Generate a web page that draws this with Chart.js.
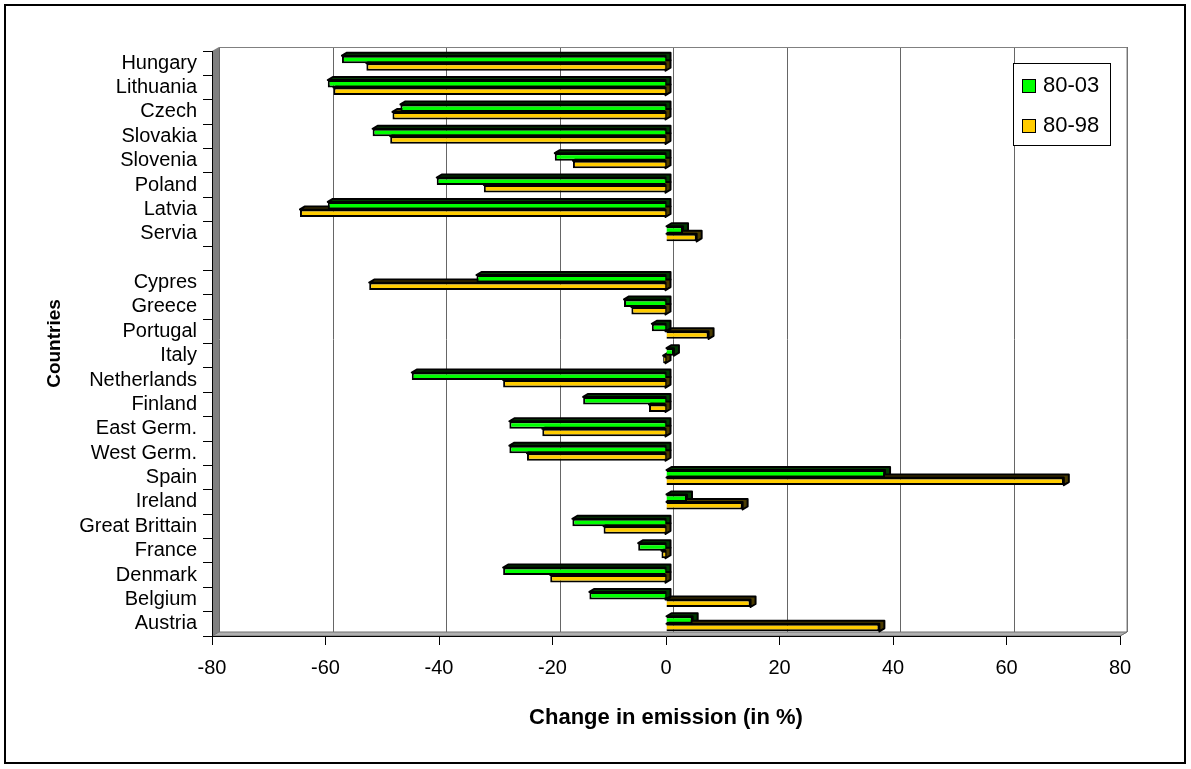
<!DOCTYPE html>
<html>
<head>
<meta charset="utf-8">
<script src="https://cdn.jsdelivr.net/npm/chart.js@4/dist/chart.umd.min.js"></script>
<style>
  body { margin: 0; background: #fff; }
  canvas { display: block; }
</style>
</head>
<body>
<canvas id="myChart" width="1191" height="769"></canvas>
<script>
const countries = [
  "Hungary", "Lithuania", "Czech", "Slovakia", "Slovenia", "Poland", "Latvia", "Servia",
  "",
  "Cypres", "Greece", "Portugal", "Italy", "Netherlands", "Finland", "East Germ.", "West Germ.",
  "Spain", "Ireland", "Great Brittain", "France", "Denmark", "Belgium", "Austria",
];
const change8003 = [
  -57.1, -59.6, -46.8, -51.7, -19.6, -40.4, -59.6, 3.0,
  null,
  -33.4, -7.4, -2.5, 1.4, -44.8, -14.6, -27.6, -27.6,
  38.6, 3.7, -16.5, -4.9, -28.7, -13.5, 4.7,
];
const change8098 = [
  -52.8, -58.6, -48.2, -48.6, -16.4, -32.1, -64.5, 5.4,
  null,
  -52.3, -6.1, 7.5, -0.5, -28.7, -3.0, -21.8, -24.5,
  70.1, 13.5, -11.0, -0.8, -20.4, 14.9, 37.6,
];
const xTicks = [-80, -60, -40, -20, 0, 20, 40, 60, 80];

const FONT = "'Liberation Sans', Arial, sans-serif";
const WALL_DX = 7;
const WALL_DY = 4;
const BAR_DX = 5;
const BAR_DY = 3;

// walls, floor and back gridlines of the fake 3d plot
const frame3d = {
  id: "frame3d",
  beforeDraw(chart) {
    const { ctx, chartArea: a, scales } = chart;
    ctx.save();
    ctx.fillStyle = "#fff";
    ctx.fillRect(0, 0, chart.width, chart.height);
    ctx.strokeStyle = "#000";
    ctx.lineWidth = 2;
    ctx.strokeRect(5, 5, 1180, 758);

    ctx.lineWidth = 1;
    ctx.strokeStyle = "#666";
    xTicks.forEach((v) => {
      const x = Math.round(scales.x.getPixelForValue(v)) + WALL_DX + 0.5;
      ctx.beginPath();
      ctx.moveTo(x, a.top - WALL_DY);
      ctx.lineTo(x, a.bottom - WALL_DY);
      ctx.stroke();
    });

    ctx.strokeStyle = "#808080";
    ctx.beginPath();
    ctx.moveTo(a.left + WALL_DX, a.top - WALL_DY + 0.5);
    ctx.lineTo(a.right + WALL_DX, a.top - WALL_DY + 0.5);
    ctx.lineTo(a.right + WALL_DX, a.bottom - WALL_DY);
    ctx.lineTo(a.right, a.bottom);
    ctx.stroke();

    // left wall
    ctx.fillStyle = "#808080";
    ctx.beginPath();
    ctx.moveTo(a.left, a.top);
    ctx.lineTo(a.left + WALL_DX, a.top - WALL_DY);
    ctx.lineTo(a.left + WALL_DX, a.bottom - WALL_DY);
    ctx.lineTo(a.left, a.bottom);
    ctx.closePath();
    ctx.fill();

    // floor
    ctx.fillStyle = "#b0b0b0";
    ctx.strokeStyle = "#707070";
    ctx.beginPath();
    ctx.moveTo(a.left, a.bottom);
    ctx.lineTo(a.left + WALL_DX, a.bottom - WALL_DY);
    ctx.lineTo(a.right + WALL_DX, a.bottom - WALL_DY);
    ctx.lineTo(a.right, a.bottom);
    ctx.closePath();
    ctx.fill();
    ctx.stroke();
    ctx.restore();
  },
  beforeDatasetsDraw(chart) {
    const { ctx } = chart;
    ctx.save();
    ctx.strokeStyle = "#000";
    ctx.lineWidth = 2;
    ctx.lineJoin = "round";
    chart.data.datasets.forEach((ds, i) => {
      chart.getDatasetMeta(i).data.forEach((bar, j) => {
        if (ds.data[j] === null) return;
        const L = Math.min(bar.x, bar.base);
        const R = Math.max(bar.x, bar.base);
        const T = bar.y - bar.height / 2;
        const B = bar.y + bar.height / 2;
        ctx.fillStyle = ds.sideColor;
        ctx.beginPath();
        ctx.moveTo(L, T);
        ctx.lineTo(L + BAR_DX, T - BAR_DY);
        ctx.lineTo(R + BAR_DX, T - BAR_DY);
        ctx.lineTo(R + BAR_DX, B - BAR_DY);
        ctx.lineTo(R, B);
        ctx.lineTo(R, T);
        ctx.closePath();
        ctx.fill();
        ctx.stroke();
      });
    });
    ctx.restore();
  },
  afterDatasetsDraw(chart) {
    const { ctx } = chart;
    ctx.save();
    ctx.fillStyle = "#fff";
    ctx.strokeStyle = "#000";
    ctx.lineWidth = 1;
    ctx.fillRect(1013, 63, 97, 82);
    ctx.strokeRect(1013.5, 63.5, 97, 82);
    ctx.font = "22px " + FONT;
    ctx.textBaseline = "middle";
    chart.data.datasets.forEach((ds, i) => {
      const y = 79 + i * 40;
      ctx.fillStyle = ds.backgroundColor;
      ctx.fillRect(1022, y, 14, 14);
      ctx.strokeRect(1022.5, y + 0.5, 13, 13);
      ctx.fillStyle = "#000";
      ctx.fillText(ds.label, 1043, y + 7);
    });
    ctx.restore();
  },
};

const ctx = document.getElementById("myChart").getContext("2d");

new Chart(ctx, {
  type: "bar",
  data: {
    labels: countries,
    datasets: [
      {
        label: "80-03",
        data: change8003,
        backgroundColor: "#00ff00",
        sideColor: "#003a00",
        borderColor: "#000",
        borderWidth: 2,
      },
      {
        label: "80-98",
        data: change8098,
        backgroundColor: "#ffcc00",
        sideColor: "#4a3b00",
        borderColor: "#000",
        borderWidth: 2,
      },
    ],
  },
  options: {
    indexAxis: "y",
    responsive: false,
    animation: false,
    categoryPercentage: 0.62,
    barPercentage: 1,
    layout: { padding: { top: 51, right: 71, left: 0, bottom: 0 } },
    plugins: {
      legend: { display: false },
      tooltip: { enabled: false },
    },
    scales: {
      x: {
        min: -80,
        max: 80,
        afterFit: (scale) => {
          scale.height = 133;
        },
        afterBuildTicks: (scale) => {
          scale.ticks = xTicks.map((v) => ({ value: v }));
        },
        grid: { drawOnChartArea: false, drawTicks: true, tickLength: 9, color: "#000" },
        border: { display: true, color: "#000", width: 1 },
        ticks: { color: "#000", font: { family: FONT, size: 20 }, padding: 11, maxRotation: 0 },
        title: {
          display: true,
          text: "Change in emission (in %)",
          color: "#000",
          font: { family: FONT, size: 22, weight: "bold" },
          padding: { top: 0, bottom: 38 },
        },
      },
      y: {
        afterFit: (scale) => {
          scale.width = 212;
        },
        grid: { drawOnChartArea: false, drawTicks: true, tickLength: 9, color: "#000" },
        border: { display: true, color: "#000", width: 1 },
        ticks: { color: "#000", font: { family: FONT, size: 20 }, padding: 6, autoSkip: false },
        title: {
          display: true,
          text: "Countries",
          color: "#000",
          font: { family: FONT, size: 19, weight: "bold" },
          padding: { top: 43, bottom: 0 },
        },
      },
    },
  },
  plugins: [frame3d],
});
</script>
</body>
</html>
